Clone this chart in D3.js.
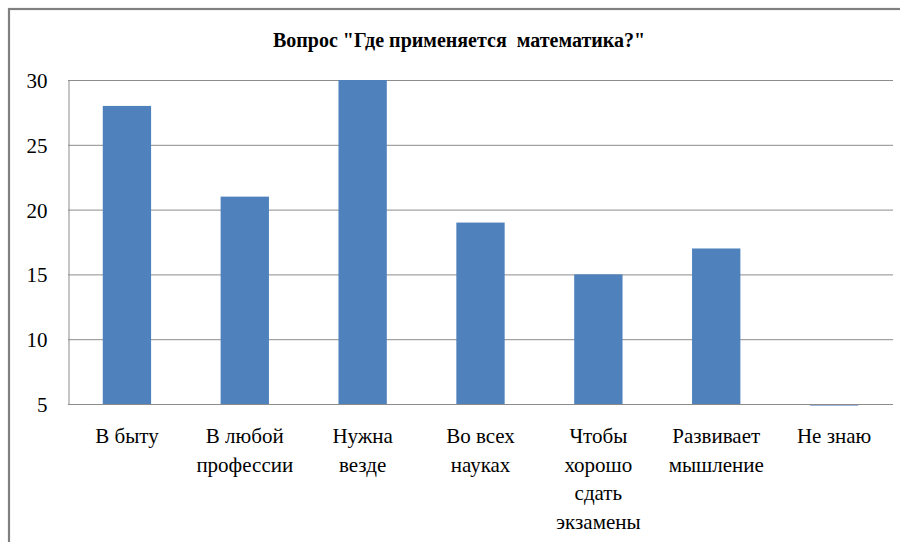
<!DOCTYPE html>
<html>
<head>
<meta charset="utf-8">
<script src="https://cdn.jsdelivr.net/npm/d3@7"></script>
<style>
  html, body { margin: 0; padding: 0; background: #fff; }
  svg { display: block; }
</style>
</head>
<body>
<svg id="chart" width="900" height="542"></svg>
<script>
// Survey answers: where is mathematics used?
const categories = [
  ["В быту"],
  ["В любой", "профессии"],
  ["Нужна", "везде"],
  ["Во всех", "науках"],
  ["Чтобы", "хорошо", "сдать", "экзамены"],
  ["Развивает", "мышление"],
  ["Не знаю"]
];
const values = [28, 21, 30, 19, 15, 17, 5];
const yTicks = [5, 10, 15, 20, 25, 30];
const title = "Вопрос \"Где применяется  математика?\"";

const FONT = '"Liberation Serif"';
const svg = d3.select("#chart");
const W = 900, H = 542;
const plot = { left: 68, right: 893, top: 80, bottom: 404 };

// Outer chart frame
svg.append("rect")
  .attr("x", 9).attr("y", 9)
  .attr("width", W + 20).attr("height", H + 20)
  .attr("fill", "none")
  .attr("stroke", "#808080")
  .attr("stroke-width", 2.2);

const x = d3.scaleBand()
  .domain(d3.range(categories.length))
  .range([plot.left, plot.right])
  .paddingInner(0.59)
  .paddingOuter(0.295);

const y = d3.scaleLinear()
  .domain([5, 30])
  .range([plot.bottom, plot.top]);

// Horizontal gridlines
svg.append("g")
  .selectAll("line")
  .data(yTicks.filter(t => t !== 5))
  .join("line")
  .attr("x1", plot.left).attr("x2", plot.right)
  .attr("y1", d => y(d) + 0.5).attr("y2", d => y(d) + 0.5)
  .attr("stroke", "#8c8c8c")
  .attr("stroke-width", 1);

// Y axis
const yAxis = d3.axisLeft(y).tickValues(yTicks).tickSize(0).tickPadding(21);
const gy = svg.append("g")
  .attr("transform", `translate(${plot.left + 0.5},0)`)
  .call(yAxis);
gy.select(".domain").attr("stroke", "#8c8c8c");
gy.selectAll("text")
  .style("font-family", FONT)
  .style("font-size", "21px")
  .attr("fill", "#000")
  .attr("dy", "0.36em");

// Bars
const barColor = "#4f81bd";
svg.append("g")
  .selectAll("rect")
  .data(values)
  .join("rect")
  .attr("x", (d, i) => x(i))
  .attr("width", x.bandwidth())
  .attr("y", d => y(d))
  .attr("height", d => Math.max(y(5) - y(d), 0))
  .attr("fill", barColor);

// Zero-height bars still show a thin stroke at the baseline
svg.append("g")
  .selectAll("line")
  .data(values.map((v, i) => ({ v, i })).filter(d => y(d.v) >= y(5)))
  .join("line")
  .attr("x1", d => x(d.i)).attr("x2", d => x(d.i) + x.bandwidth())
  .attr("y1", plot.bottom + 1).attr("y2", plot.bottom + 1)
  .attr("stroke", "#7b9fcf")
  .attr("stroke-width", 1.5);

// X axis baseline
svg.append("line")
  .attr("x1", plot.left).attr("x2", plot.right)
  .attr("y1", plot.bottom + 0.5).attr("y2", plot.bottom + 0.5)
  .attr("stroke", "#8c8c8c");

// Category labels, one tspan per line
categories.forEach((lines, i) => {
  const t = svg.append("text")
    .attr("x", x(i) + x.bandwidth() / 2)
    .attr("y", 443)
    .attr("text-anchor", "middle")
    .style("font-family", FONT)
    .style("font-size", "21px")
    .attr("fill", "#000");
  lines.forEach((line, j) => {
    t.append("tspan")
      .attr("x", x(i) + x.bandwidth() / 2)
      .attr("y", 443 + j * 28.7)
      .text(line);
  });
});

// Title
svg.append("text")
  .attr("x", 459)
  .attr("y", 47)
  .attr("text-anchor", "middle")
  .style("font-family", FONT)
  .style("font-size", "20px")
  .style("font-weight", "bold")
  .style("white-space", "pre")
  .attr("fill", "#000")
  .text(title);
</script>
</body>
</html>
